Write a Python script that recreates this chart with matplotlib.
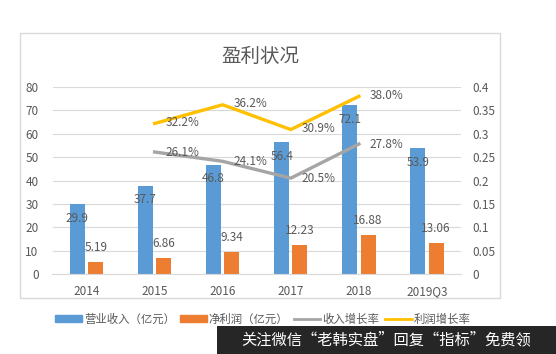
import matplotlib
matplotlib.use("Agg")
import matplotlib.pyplot as plt
from matplotlib.patches import Rectangle
from matplotlib.lines import Line2D
import numpy as np

plt.rcParams['font.family'] = ['Noto Sans CJK SC', 'DejaVu Sans']

categories = ["2014", "2015", "2016", "2017", "2018", "2019Q3"]
revenue = [29.9, 37.7, 46.8, 56.4, 72.1, 53.9]
profit = [5.19, 6.86, 9.34, 12.23, 16.88, 13.06]
rev_growth = [None, 0.261, 0.241, 0.205, 0.278, None]
profit_growth = [None, 0.322, 0.362, 0.309, 0.380, None]
left_ticks = [0, 10, 20, 30, 40, 50, 60, 70, 80]
right_ticks = [0, 0.05, 0.1, 0.15, 0.2, 0.25, 0.3, 0.35, 0.4]
right_tick_labels = ["0", "0.05", "0.1", "0.15", "0.2", "0.25", "0.3", "0.35", "0.4"]

BLUE = "#5B9BD5"
ORANGE = "#ED7D31"
GRAY = "#A5A5A5"
YELLOW = "#FFC000"
TXT = "#595959"

W, H = 556, 354
fig = plt.figure(figsize=(W / 100, H / 100), dpi=100)
fig.patch.set_facecolor("white")

# outer chart frame
fig.patches.append(Rectangle((20 / W, 1 - 298 / H), 480 / W, 265 / H, transform=fig.transFigure,
                             fill=False, edgecolor="#D9D9D9", linewidth=1.0))

ax = fig.add_axes([52.5 / W, 1 - 274 / H, 408.5 / W, 187 / H])
ax2 = ax.twinx()

x = np.arange(len(categories))
bw = 0.22
gap = 0.05
ax.bar(x - (bw + gap) / 2, revenue, bw, color=BLUE, zorder=2)
ax.bar(x + (bw + gap) / 2, profit, bw, color=ORANGE, zorder=2)

for xi, v in zip(x, revenue):
    ax.text(xi - (bw + gap) / 2, v - 6, f"{v}", ha="center", va="center", fontsize=8.5, color=TXT, zorder=5)
for xi, v in zip(x, profit):
    ax.text(xi + (bw + gap) / 2, v + 6.2, f"{v:.2f}", ha="center", va="center", fontsize=8.5, color=TXT, zorder=5)

ax.set_ylim(0, 80)
ax.set_yticks(left_ticks)
ax.set_xlim(-0.5, len(categories) - 0.5)
ax.set_xticks(x)
ax.set_xticklabels(categories)
ax.grid(axis="y", color="#D9D9D9", linewidth=0.8, zorder=0)
ax.set_axisbelow(True)
for s in ["top", "right", "left"]:
    ax.spines[s].set_visible(False)
ax.spines["bottom"].set_color("#D9D9D9")
ax.tick_params(axis="y", length=0, labelsize=8.5, colors=TXT, pad=10)
ax.tick_params(axis="x", length=0, labelsize=8.5, colors=TXT, pad=8)

rx = [i for i, v in enumerate(rev_growth) if v is not None]
rv = [v for v in rev_growth if v is not None]
px = [i for i, v in enumerate(profit_growth) if v is not None]
pv = [v for v in profit_growth if v is not None]
ax2.plot(rx, rv, color=GRAY, linewidth=2.4, zorder=3)
ax2.plot(px, pv, color=YELLOW, linewidth=2.4, zorder=3)
for xi, v in zip(rx, rv):
    ax2.text(xi + 0.16, v - 0.001, f"{v*100:.1f}%", ha="left", va="center", fontsize=8.5, color=TXT)
for xi, v in zip(px, pv):
    ax2.text(xi + 0.16, v + 0.002, f"{v*100:.1f}%", ha="left", va="center", fontsize=8.5, color=TXT)
ax2.set_ylim(0, 0.4)
ax2.set_yticks(right_ticks)
ax2.set_yticklabels(right_tick_labels)
for s in ["top", "right", "left", "bottom"]:
    ax2.spines[s].set_visible(False)
ax2.tick_params(axis="y", length=0, labelsize=8.5, colors=TXT, pad=8)

fig.text(260 / W, 1 - 56 / H, "盈利状况", ha="center", va="center", fontsize=14, color=TXT)

handles = [Rectangle((0, 0), 1, 1, color=BLUE), Rectangle((0, 0), 1, 1, color=ORANGE),
           Line2D([], [], color=GRAY, linewidth=2), Line2D([], [], color=YELLOW, linewidth=2)]
labels = ["营业收入（亿元）", "净利润（亿元）", "收入增长率", "利润增长率"]
fig.legend(handles, labels, loc="center", bbox_to_anchor=(263 / W, 1 - 319 / H), ncol=4, frameon=False,
           fontsize=8.2, labelcolor=TXT, handlelength=2.3, handleheight=0.6, handletextpad=0.2,
           columnspacing=0.5)

# watermark banner
fig.patches.append(Rectangle((217 / W, 0), (W - 217) / W, 28 / H, transform=fig.transFigure,
                             facecolor="#262626", edgecolor="none"))
fig.text((217 + 556) / 2 / W, 14 / H, "关注微信“老韩实盘”回复“指标”免费领", ha="center", va="center",
         fontsize=11, color="white")

fig.savefig("out.png", dpi=100)
